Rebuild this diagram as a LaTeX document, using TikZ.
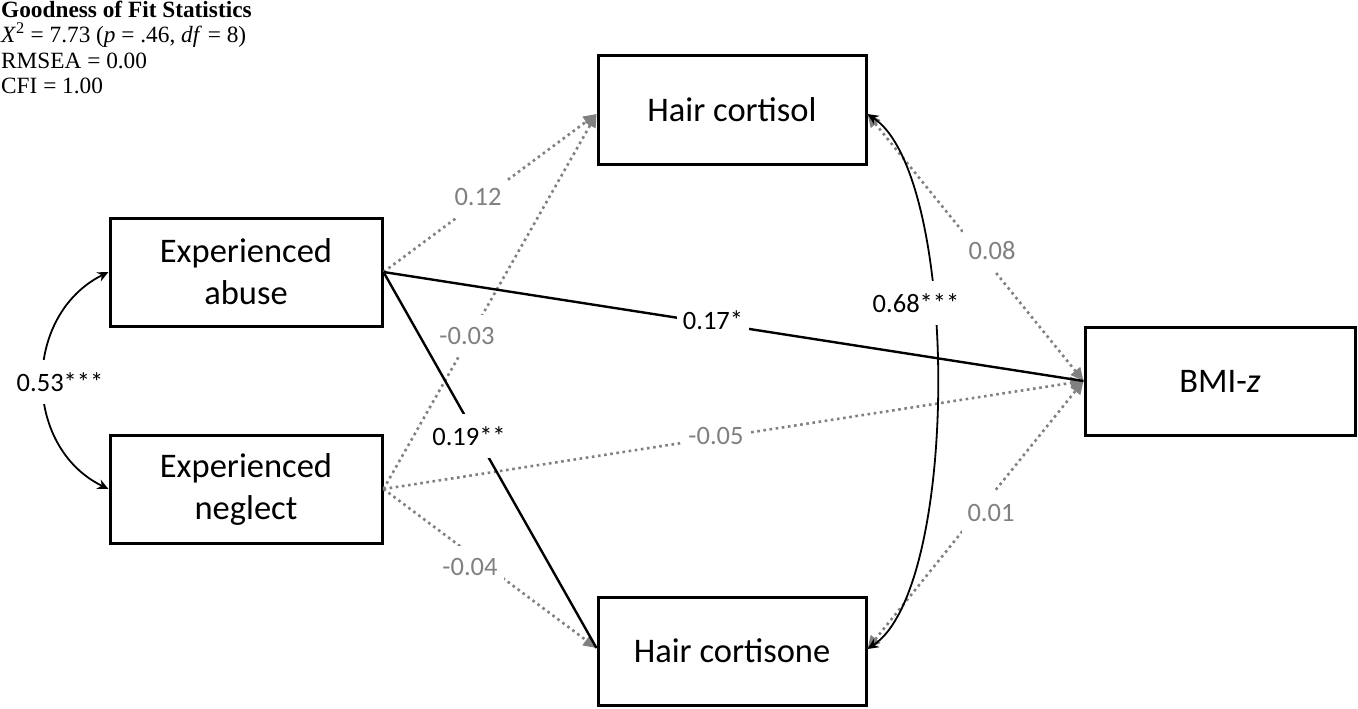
\documentclass[tikz,border=0pt]{standalone}
\usepackage{fontspec}
\setmainfont{Carlito}
\newfontfamily\statfont{Liberation Serif}
\usetikzlibrary{arrows.meta}
\definecolor{pathgray}{RGB}{128,128,128}
\begin{document}
\begin{tikzpicture}[x=1pt,y=-1pt,
  box/.style={draw, line width=3pt, rectangle, inner sep=0pt, align=center, font=\fontsize{34.5}{42}\selectfont},
  dotline/.style={draw=pathgray, line width=2.6pt, dash pattern=on 2.6pt off 3.6pt, -{Triangle[length=13pt,width=12pt,color=pathgray]}},
  dotboth/.style={dotline, {Triangle[length=13pt,width=12pt,color=pathgray]}-{Triangle[length=13pt,width=12pt,color=pathgray]}},
  solidline/.style={draw=black, line width=2.4pt},
  corr/.style={draw=black, line width=1.8pt, {Stealth[length=11pt,width=10pt]}-{Stealth[length=11pt,width=10pt]}},
  lab/.style={fill=white, inner xsep=6pt, inner ysep=12pt, font=\fontsize{26.5}{30}\selectfont},
  glab/.style={lab, text=pathgray},
  blab/.style={lab, text=black}]
\useasboundingbox (0,0) rectangle (1358,709);

% statistics
\node[anchor=north west, inner sep=0pt, align=left, font=\statfont\fontsize{23.3}{25.3}\selectfont] (stats) at (1,1)
  {\textbf{Goodness of Fit Statistics}\\
   \textit{X}\textsuperscript{2} = 7.73 (\textit{p} = .46, \textit{df} = 8)\\
   RMSEA = 0.00\\
   CFI = 1.00};

% boxes
\node[box, minimum width=272pt, minimum height=108pt] (abuse) at (246,272) {Experienced\\abuse};
\node[box, minimum width=272pt, minimum height=108pt] (neglect) at (246,489) {Experienced\\neglect};
\node[box, minimum width=268pt, minimum height=108pt] (cortisol) at (732,110) {Hair cortisol};
\node[box, minimum width=268pt, minimum height=108pt] (cortisone) at (732,651) {Hair cortisone};
\node[box, minimum width=270pt, minimum height=108pt] (bmi) at (1220,381) {BMI-\textit{z}};

\coordinate (cortL) at ([yshift=-4pt]cortisol.west);
\coordinate (cortR) at ([yshift=-4pt]cortisol.east);
\coordinate (consL) at ([yshift=3pt]cortisone.west);
\coordinate (consR) at ([yshift=2pt]cortisone.east);

% non-significant paths
\draw[dotline] (abuse.east) -- (cortL);
\draw[dotline] (neglect.east) -- (cortL);
\draw[dotline] (neglect.east) -- (consL);
\draw[dotline] (neglect.east) -- (bmi.west);
\draw[dotboth] (cortR) -- (bmi.west);
\draw[dotboth] (consR) -- (bmi.west);

% significant paths
\draw[solidline] (abuse.east) -- (bmi.west);
\draw[solidline] (abuse.east) -- (consL);

% correlations
\draw[corr] (abuse.west) .. controls (22,315) and (22,447) .. (neglect.west);
\draw[corr] (cortR) .. controls (960,175) and (960,588) .. (consR);

% labels
\node[glab] (l12) at (478,197) {0.12};
\node[glab] (l03) at (467,336) {-0.03};
\node[blab] (l19) at (469,436) {0.19**};
\node[blab] (l17) at (713,320) {0.17*};
\node[glab] (l05) at (716,436) {-0.05};
\node[glab] (l04) at (470,567) {-0.04};
\node[blab] (l68) at (916,303) {0.68***};
\node[glab] (l08) at (992,251) {0.08};
\node[glab] (l01) at (991,513) {0.01};
\node[blab] (l53) at (60,382) {0.53***};
\end{tikzpicture}
\end{document}
